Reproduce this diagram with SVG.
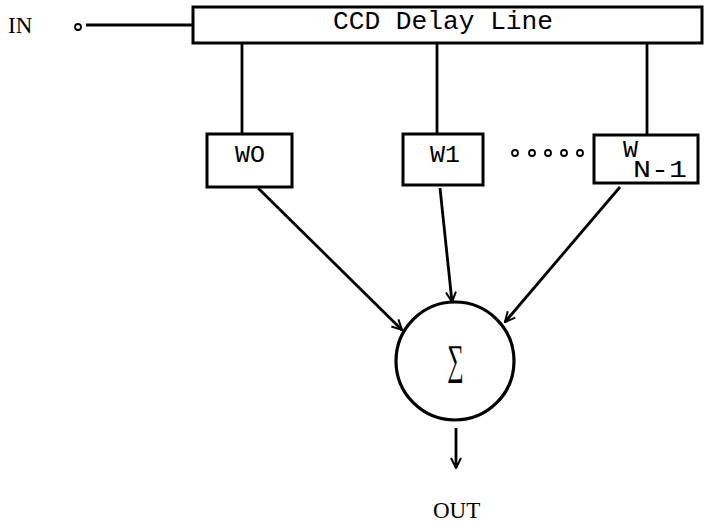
<svg xmlns="http://www.w3.org/2000/svg" width="708" height="527" viewBox="0 0 708 527">
<style>
.box{fill:#fff;stroke:#000;stroke-width:3}
.ln{fill:none;stroke:#000;stroke-width:2.8}
.mono{font-family:"Liberation Mono","DejaVu Sans Mono",monospace;fill:#000}
.serif{font-family:"Liberation Serif","DejaVu Serif",serif;fill:#000}
</style>
<defs>
<marker id="ah" viewBox="0 0 12 12" refX="11" refY="6" markerWidth="12" markerHeight="12" markerUnits="userSpaceOnUse" orient="auto">
<path d="M1,1 L11,6 L1,11" fill="none" stroke="#000" stroke-width="2"/>
</marker>
</defs>
<rect width="708" height="527" fill="#fff"/>
<g id="connectors">
<circle cx="78" cy="27" r="3" fill="none" stroke="#000" stroke-width="1.8"/>
<line class="ln" x1="86" y1="25" x2="193" y2="25" stroke-width="2"/>
<line class="ln" x1="242" y1="43" x2="242" y2="134"/>
<line class="ln" x1="437" y1="43" x2="437" y2="134"/>
<line class="ln" x1="647" y1="43" x2="647" y2="135"/>
<line class="ln" x1="258" y1="188" x2="402" y2="330" marker-end="url(#ah)"/>
<line class="ln" x1="440" y1="188" x2="452" y2="302" marker-end="url(#ah)"/>
<line class="ln" x1="620" y1="187" x2="505" y2="322" marker-end="url(#ah)"/>
<line class="ln" x1="456" y1="428" x2="456" y2="468" stroke-width="1.8" marker-end="url(#ah)"/>
</g>
<g id="in">
<text class="serif" x="8" y="33" font-size="23">IN</text>
</g>
<g id="ccd">
<rect class="box" x="193" y="7" width="509" height="36"/>
<text class="mono" x="333" y="29" font-size="25" textLength="220" lengthAdjust="spacingAndGlyphs">CCD Delay Line</text>
</g>
<g id="w0">
<rect class="box" x="207" y="134" width="85" height="53"/>
<text class="mono" x="235" y="162" font-size="24" textLength="30" lengthAdjust="spacingAndGlyphs">WO</text>
</g>
<g id="w1">
<rect class="box" x="403" y="134" width="80" height="51"/>
<text class="mono" x="430" y="162" font-size="24" textLength="30" lengthAdjust="spacingAndGlyphs">W1</text>
</g>
<g id="dots" fill="none" stroke="#000" stroke-width="1.8">
<circle cx="515" cy="153" r="3"/>
<circle cx="532" cy="153" r="3"/>
<circle cx="548" cy="153" r="3"/>
<circle cx="564" cy="153" r="3"/>
<circle cx="580" cy="153" r="3"/>
</g>
<g id="wn1">
<rect class="box" x="594" y="135" width="104" height="48" stroke-width="4"/>
<text class="mono" x="623" y="157" font-size="24" textLength="15" lengthAdjust="spacingAndGlyphs">W</text>
<text class="mono" x="633" y="177" font-size="24" textLength="54" lengthAdjust="spacingAndGlyphs">N-1</text>
</g>
<g id="sum">
<circle cx="455" cy="361" r="59" fill="none" stroke="#000" stroke-width="3.2"/>
<text class="serif" x="455.5" y="374" font-size="42" text-anchor="middle" transform="translate(455.5 0) scale(0.55 1) translate(-455.5 0)">∑</text>
</g>
<g id="out">
<text class="serif" x="433" y="518" font-size="23">OUT</text>
</g>
</svg>
